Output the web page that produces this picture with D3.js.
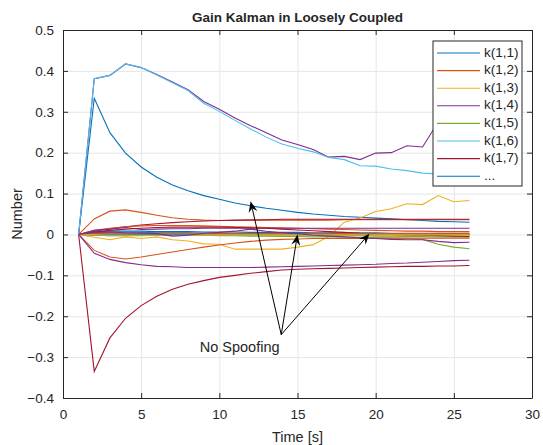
<!DOCTYPE html>
<html>
<head>
<meta charset="utf-8">
<script src="https://cdn.jsdelivr.net/npm/d3@7"></script>
<style>
body { margin: 0; background: #fff; }
text { font-family: "Liberation Sans", Arial, sans-serif; fill: #262626; }
</style>
</head>
<body>
<div id="chart"></div>
<script>
// time steps [s]
const time = [1,2,3,4,5,6,7,8,9,10,11,12,13,14,15,16,17,18,19,20,21,22,23,24,25,26];

// gain row k(1,n)
const g1  = [0,0.333,0.249,0.199,0.165,0.140,0.121,0.107,0.095,0.086,0.077,0.070,0.064,0.059,0.054,0.050,0.047,0.044,0.042,0.040,0.038,0.036,0.034,0.032,0.031,0.030];
const g2  = [0,0.038,0.057,0.060,0.054,0.047,0.041,0.037,0.035,0.034,0.034,0.034,0.035,0.035,0.035,0.035,0.035,0.036,0.036,0.036,0.036,0.036,0.036,0.036,0.036,0.036];
const g3  = [0,-0.007,-0.013,-0.006,-0.010,-0.006,-0.013,-0.016,-0.023,-0.024,-0.036,-0.036,-0.036,-0.036,-0.031,-0.025,-0.005,0.030,0.040,0.056,0.063,0.075,0.073,0.095,0.080,0.083];
const g4  = [0,0.381,0.389,0.417,0.408,0.391,0.373,0.354,0.325,0.306,0.285,0.266,0.249,0.231,0.220,0.208,0.189,0.191,0.183,0.199,0.200,0.217,0.214,0.275,0.270,0.280];
const g5  = [0,0.002,0.003,0.002,0.001,0.000,-0.001,-0.002,-0.002,-0.003,-0.003,-0.004,-0.004,-0.005,-0.005,-0.006,-0.006,-0.007,-0.007,-0.008,-0.009,-0.010,-0.012,-0.024,-0.031,-0.035];
const g6  = [0,0.381,0.389,0.417,0.408,0.390,0.371,0.352,0.321,0.301,0.279,0.258,0.238,0.221,0.211,0.202,0.188,0.183,0.168,0.167,0.160,0.156,0.150,0.148,0.144,0.140];
const g7  = [0,-0.335,-0.253,-0.205,-0.174,-0.151,-0.134,-0.122,-0.113,-0.105,-0.100,-0.095,-0.091,-0.087,-0.085,-0.084,-0.083,-0.082,-0.081,-0.080,-0.079,-0.078,-0.078,-0.077,-0.077,-0.076];
const g8  = [0,0.004,0.005,0.005,0.005,0.004,0.004,0.004,0.003,0.003,0.003,0.003,0.002,0.002,0.002,0.002,0.002,0.001,0.001,0.001,0.001,0.001,0.001,0.001,0.000,0.000];
const g9  = [0,-0.039,-0.055,-0.060,-0.055,-0.049,-0.043,-0.037,-0.031,-0.026,-0.021,-0.017,-0.014,-0.012,-0.011,-0.010,-0.010,-0.010,-0.010,-0.009,-0.009,-0.009,-0.009,-0.009,-0.009,-0.009];
const g10 = [0,-0.002,-0.003,-0.003,-0.002,-0.002,-0.001,-0.001,-0.001,-0.001,0.000,0.000,0.000,0.000,0.001,0.001,0.001,0.001,0.001,0.001,0.001,0.001,0.001,0.001,0.001,0.001];
const g11 = [0,-0.046,-0.061,-0.069,-0.074,-0.078,-0.079,-0.081,-0.081,-0.081,-0.081,-0.081,-0.080,-0.079,-0.078,-0.077,-0.076,-0.075,-0.074,-0.073,-0.071,-0.070,-0.068,-0.066,-0.064,-0.063];
const g12 = [0,-0.002,-0.003,-0.003,-0.003,-0.002,-0.002,-0.002,-0.002,-0.001,-0.001,-0.001,-0.001,-0.001,-0.001,-0.001,-0.001,-0.001,-0.001,-0.001,-0.001,-0.001,-0.001,-0.001,-0.001,-0.001];
const g13 = [0,0.003,0.004,0.004,0.003,0.003,0.003,0.002,0.002,0.002,0.002,0.002,0.001,0.001,0.001,0.001,0.001,0.001,0.001,0.001,0.000,0.000,0.000,0.000,0.000,0.000];
const g14 = [0,0.008,0.014,0.019,0.023,0.026,0.029,0.031,0.033,0.034,0.035,0.036,0.036,0.037,0.037,0.037,0.037,0.037,0.037,0.037,0.037,0.037,0.037,0.037,0.037,0.037];
const g15 = [0,0.006,0.008,0.008,0.008,0.007,0.007,0.007,0.006,0.006,0.006,0.005,0.005,0.005,0.005,0.004,0.004,0.004,0.004,0.004,0.003,0.003,0.003,0.003,0.003,0.003];
const g16 = [0,0.010,0.015,0.019,0.021,0.022,0.022,0.022,0.021,0.020,0.019,0.018,0.017,0.016,0.015,0.014,0.013,0.012,0.011,0.010,0.009,0.008,0.008,0.007,0.007,0.007];
const g17 = [0,0.002,0.003,0.002,0.002,0.002,0.001,0.001,0.001,0.001,0.001,0.001,0.000,0.000,0.000,0.000,0.000,-0.001,-0.001,-0.001,-0.001,-0.001,-0.002,-0.002,-0.002,-0.002];
const g18 = [0,0.010,0.013,0.017,0.012,0.013,0.014,0.014,0.015,0.015,0.015,0.015,0.015,0.015,0.015,0.015,0.015,0.015,0.015,0.015,0.015,0.015,0.015,0.015,0.015,0.015];
const g19 = [0,0.001,0.001,0.001,0.000,0.000,0.000,0.000,-0.001,-0.001,-0.001,-0.001,-0.002,-0.002,-0.002,-0.002,-0.003,-0.003,-0.003,-0.004,-0.004,-0.005,-0.005,-0.006,-0.006,-0.007];
const g20 = [0,0.001,0.002,0.002,0.002,0.001,0.001,0.001,0.001,0.001,0.001,0.000,0.000,0.000,0.000,0.000,0.000,0.000,0.000,0.000,0.000,0.000,0.000,0.000,0.000,0.000];
const g21 = [0,0.006,0.010,0.013,0.015,0.017,0.018,0.018,0.018,0.018,0.017,0.016,0.015,0.013,0.011,0.009,0.007,0.005,0.003,0.002,0.000,-0.001,-0.002,-0.003,-0.004,-0.005];
const g22 = [0,-0.001,-0.001,-0.001,-0.001,-0.001,-0.001,0.000,0.000,0.000,0.000,0.000,0.000,0.000,0.000,0.000,0.000,0.000,0.000,0.000,0.000,0.000,0.000,0.000,0.000,0.000];
const g23 = [0,0.002,0.003,0.003,0.003,0.003,0.003,0.003,0.003,0.002,0.002,0.002,0.002,0.002,0.002,0.002,0.002,0.002,0.002,0.002,0.002,0.002,0.002,0.002,0.002,0.002];
const g24 = [0,-0.001,-0.002,-0.002,-0.002,-0.002,-0.002,-0.002,-0.001,-0.001,-0.001,-0.001,-0.001,-0.001,-0.001,-0.001,-0.001,-0.001,-0.001,-0.001,-0.001,-0.001,-0.001,-0.001,-0.001,-0.001];
const g25 = [0,0.005,0.006,0.004,0.003,0.002,-0.004,-0.002,0.003,0.005,0.008,0.013,0.008,0.004,0.002,-0.002,-0.004,-0.006,-0.008,-0.010,-0.012,-0.013,-0.013,-0.017,-0.020,-0.019];

const series = [g1,g2,g3,g4,g5,g6,g7,g8,g9,g10,g11,g12,g13,g14,g15,g16,g17,g18,g19,g20,g21,g22,g23,g24,g25];

// matlab default line colours
const colors = ["#0072BD","#D95319","#EDB120","#7E2F8E","#77AC30","#4DBEEE","#A2142F"];

const legendLabels = ["k(1,1)","k(1,2)","k(1,3)","k(1,4)","k(1,5)","k(1,6)","k(1,7)","..."];

const xTicks = [0,5,10,15,20,25,30];
const yTicks = [-0.4,-0.3,-0.2,-0.1,0,0.1,0.2,0.3,0.4,0.5];

// annotation: one tail, three heads (data units)
const arrowTail = [13.96, -0.245];
const arrowTips = [[12.0, 0.081], [15.0, 0.0], [19.6, 0.002]];
const noteText = "No Spoofing";
const notePos = [11.3, -0.277];

let W = 543, H = 445;
let margin = {top: 30, right: 11, bottom: 47, left: 63};
let width = W - margin.left - margin.right;
let height = H - margin.top - margin.bottom;

let svg = d3.select("#chart").append("svg")
    .attr("width", W)
    .attr("height", H);

let g = svg.append("g")
    .attr("transform", "translate(" + margin.left + "," + margin.top + ")");

let xScale = d3.scaleLinear().domain([0, 30]).range([0, width]);
let yScale = d3.scaleLinear().domain([-0.4, 0.5]).range([height, 0]);

// grid
g.append("g")
    .attr("transform", "translate(0," + height + ")")
    .call(d3.axisBottom(xScale).tickValues(xTicks).tickSize(-height).tickFormat(""))
    .call(function(a) {
        a.select(".domain").remove();
        a.selectAll("line").attr("stroke", "#e6e6e6");
    });

g.append("g")
    .call(d3.axisLeft(yScale).tickValues(yTicks).tickSize(-width).tickFormat(""))
    .call(function(a) {
        a.select(".domain").remove();
        a.selectAll("line").attr("stroke", "#e6e6e6");
    });

// lines
let line = d3.line()
    .x(function(d, i) { return xScale(time[i]); })
    .y(function(d) { return yScale(d); });

g.append("g")
    .selectAll("path")
    .data(series)
    .join("path")
    .attr("fill", "none")
    .attr("stroke", function(d, i) { return colors[i % colors.length]; })
    .attr("stroke-width", 1.1)
    .attr("d", line);

// axes with ticks on the inside, box all round
function styleAxis(a) {
    a.select(".domain").attr("stroke", "#262626");
    a.selectAll(".tick line").attr("stroke", "#262626");
    a.selectAll("text").attr("fill", "#262626").style("font-size", "13.5px")
        .style("font-family", '"Liberation Sans", Arial, sans-serif');
}

g.append("g")
    .attr("transform", "translate(0," + height + ")")
    .call(d3.axisBottom(xScale).tickValues(xTicks).tickSizeInner(-5).tickSizeOuter(0).tickPadding(11).tickFormat(d3.format("d")))
    .call(styleAxis);

g.append("g")
    .call(d3.axisTop(xScale).tickValues(xTicks).tickSizeInner(-5).tickSizeOuter(0).tickFormat(""))
    .call(styleAxis);

g.append("g")
    .call(d3.axisLeft(yScale).tickValues(yTicks).tickSizeInner(-5).tickSizeOuter(0).tickPadding(9).tickFormat(function(d) { return d3.format("")(+d.toFixed(1)); }))
    .call(styleAxis);

g.append("g")
    .attr("transform", "translate(" + width + ",0)")
    .call(d3.axisRight(yScale).tickValues(yTicks).tickSizeInner(-5).tickSizeOuter(0).tickFormat(""))
    .call(styleAxis);

// title and labels
svg.append("text")
    .attr("x", margin.left + width / 2)
    .attr("y", 22)
    .attr("text-anchor", "middle")
    .style("font-size", "13.5px")
    .style("font-weight", "bold")
    .attr("fill", "#000")
    .text("Gain Kalman in Loosely Coupled");

svg.append("text")
    .attr("x", margin.left + width / 2)
    .attr("y", 442)
    .attr("text-anchor", "middle")
    .style("font-size", "14.5px")
    .text("Time [s]");

svg.append("text")
    .attr("transform", "translate(22," + (margin.top + height / 2) + ") rotate(-90)")
    .attr("text-anchor", "middle")
    .style("font-size", "14.5px")
    .text("Number");

// annotation arrows
let ann = g.append("g");
let tx = xScale(arrowTail[0]), ty = yScale(arrowTail[1]);
arrowTips.forEach(function(tip) {
    let px = xScale(tip[0]), py = yScale(tip[1]);
    let dx = px - tx, dy = py - ty;
    let len = Math.sqrt(dx * dx + dy * dy);
    let ux = dx / len, uy = dy / len;
    let nx = -uy, ny = ux;
    let L = 11, Wd = 4.5;
    let bx = px - L * ux, by = py - L * uy;
    let cx = px - 0.65 * L * ux, cy = py - 0.65 * L * uy;
    ann.append("line")
        .attr("x1", tx).attr("y1", ty)
        .attr("x2", cx).attr("y2", cy)
        .attr("stroke", "#000").attr("stroke-width", 1);
    ann.append("path")
        .attr("d", "M" + px + "," + py +
            "L" + (bx + Wd * nx) + "," + (by + Wd * ny) +
            "L" + cx + "," + cy +
            "L" + (bx - Wd * nx) + "," + (by - Wd * ny) + "Z")
        .attr("fill", "#000");
});

ann.append("text")
    .attr("x", xScale(notePos[0]))
    .attr("y", yScale(notePos[1]))
    .attr("text-anchor", "middle")
    .attr("dominant-baseline", "middle")
    .style("font-size", "14.5px")
    .attr("fill", "#000")
    .text(noteText);

// legend
let lg = svg.append("g").attr("transform", "translate(433,41)");
lg.append("rect")
    .attr("width", 89).attr("height", 145)
    .attr("fill", "#fff")
    .attr("stroke", "#262626").attr("stroke-width", 1);

legendLabels.forEach(function(lab, i) {
    let yy = 12 + i * 17.6;
    lg.append("line")
        .attr("x1", 4).attr("x2", 47)
        .attr("y1", yy).attr("y2", yy)
        .attr("stroke", colors[i % colors.length]).attr("stroke-width", 1.1);
    lg.append("text")
        .attr("x", 51).attr("y", yy)
        .attr("dominant-baseline", "middle")
        .style("font-size", "13.5px")
        .attr("fill", "#000")
        .text(lab);
});
</script>
</body>
</html>
